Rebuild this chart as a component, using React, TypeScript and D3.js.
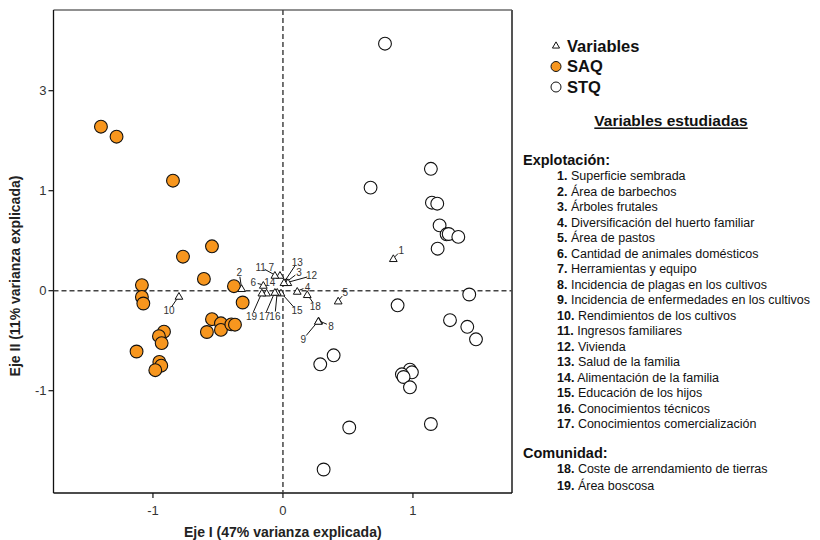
import React from "react";
import * as d3 from "d3";

// SAQ group scores (Eje I, Eje II)
const saqX = [-1.40, -1.28, -0.846, -0.546, -0.769, -0.608, -0.377, -0.310, -1.085, -1.085, -1.074, -0.546, -0.477, -0.477, -0.397, -0.369, -0.585, -0.915, -0.954, -0.933, -1.126, -0.951, -0.936, -0.982];
const saqY = [1.64, 1.54, 1.10, 0.444, 0.340, 0.118, 0.045, -0.118, 0.056, -0.062, -0.128, -0.285, -0.326, -0.392, -0.337, -0.340, -0.413, -0.410, -0.455, -0.524, -0.608, -0.712, -0.750, -0.795];

// STQ group scores
const stqX = [0.785, 1.138, 0.674, 1.146, 1.187, 1.205, 1.259, 1.275, 1.349, 1.190, 1.433, 0.882, 1.285, 1.418, 1.485, 0.390, 0.287, 0.977, 0.992, 0.915, 0.928, 0.977, 1.138, 0.510, 0.313];
const stqY = [2.47, 1.219, 1.031, 0.88, 0.87, 0.653, 0.564, 0.567, 0.538, 0.420, -0.038, -0.146, -0.295, -0.361, -0.486, -0.646, -0.736, -0.790, -0.816, -0.836, -0.863, -0.966, -1.333, -1.368, -1.788];

// variables (triangles)
const varIds = ["1", "2", "3", "4", "5", "6", "7", "8", "9", "10", "11", "12", "13", "14", "15", "16", "17", "18", "19"];
const varX = [0.849, -0.318, 0.023, 0.110, 0.425, -0.151, -0.023, 0.275, 0.272, -0.80, -0.062, 0.038, 0.008, -0.126, -0.015, -0.044, -0.062, 0.187, -0.162];
const varY = [0.324, 0.024, 0.084, -0.003, -0.10, 0.057, 0.157, -0.30, -0.303, -0.053, 0.157, 0.084, 0.084, -0.02, -0.02, -0.013, -0.013, -0.036, -0.02];

// label placement for variables (px offset from the triangle), [dx, dy, leader?]
const varLabelPos: [number, number, boolean][] = [
  [8, -8, true], [-2.4, -16, true], [13, -10, true], [10.4, -4, true], [7, -8, true],
  [-10, -2.7, true], [-8.7, -8, false], [12.3, 5.3, true], [-15, 18, true], [-10, 14.7, true],
  [-14.3, -8, true], [23.7, -6.5, true], [13.3, -20, true], [3.3, -10.4, false], [16, 18, true],
  [-2.3, 24, true], [-10.3, 24, true], [8, 11.7, true], [-10.3, 23.3, true],
];

const xTicks = [-1, 0, 1];
const xTickLabels = ["-1", "0", "1"];
const yTicks = [2, 1, 0, -1];
const yTickLabels = ["3", "1", "0", "-1"];

const legendItems = ["Variables", "SAQ", "STQ"];

const groupTitles = ["Explotación:", "Comunidad:"];
const groupA = [
  "Superficie sembrada", "Área de barbechos", "Árboles frutales", "Diversificación del huerto familiar",
  "Área de pastos", "Cantidad de animales domésticos", "Herramientas y equipo",
  "Incidencia de plagas en los  cultivos", "Incidencia de enfermedades en los cultivos",
  "Rendimientos de los cultivos", "Ingresos familiares", "Vivienda", "Salud de la familia",
  "Alimentación de la familia", "Educación de los hijos", "Conocimientos técnicos",
  "Conocimientos comercialización",
];
const groupB = ["Coste de arrendamiento de tierras", "Área boscosa"];

const ORANGE = "#F7961E";
const FONT = "'Liberation Sans', Arial, sans-serif";

const App = () => {
  const W = 820, H = 540;
  const left = 53.5, right = 512, top = 10, bottom = 493;

  const x = d3.scaleLinear().domain([-1.765, 1.762]).range([left, right]);
  const y = d3.scaleLinear().domain([2.807, -2.023]).range([top, bottom]);

  const tri = d3.symbol().type(d3.symbolTriangle).size(26)();
  const legendTri = d3.symbol().type(d3.symbolTriangle).size(22)();

  return (
    <svg width={W} height={H} style={{ position: "absolute", left: 0, top: 0, background: "#fff" }} fontFamily={FONT}>
      {/* frame */}
      <line x1={left} x2={right} y1={top} y2={top} stroke="#222" strokeWidth={1.2} />
      <line x1={right} x2={right} y1={top} y2={bottom} stroke="#555" strokeWidth={2} />
      <line x1={left} x2={left} y1={top} y2={bottom} stroke="#111" strokeWidth={1.3} />
      <line x1={left} x2={right} y1={bottom} y2={bottom} stroke="#111" strokeWidth={1.3} />

      {/* reference lines */}
      <line x1={x(0)} x2={x(0)} y1={top} y2={bottom} stroke="#444" strokeWidth={1.5} strokeDasharray="5,3" />
      <line x1={left} x2={right} y1={y(0)} y2={y(0)} stroke="#444" strokeWidth={1.5} strokeDasharray="5,3" />

      {/* y axis */}
      {yTicks.map((t, i) => (
        <g key={"yt" + i}>
          <line x1={left - 5} x2={left} y1={y(t)} y2={y(t)} stroke="#111" strokeWidth={1.2} />
          <text x={left - 7} y={y(t)} dy="0.35em" textAnchor="end" fontSize={13} fill="#333">{yTickLabels[i]}</text>
        </g>
      ))}
      {/* x axis */}
      {xTicks.map((t, i) => (
        <g key={"xt" + i}>
          <line x1={x(t)} x2={x(t)} y1={bottom} y2={bottom + 5} stroke="#111" strokeWidth={1.2} />
          <text x={x(t)} y={bottom + 12} dy="0.75em" textAnchor="middle" fontSize={13} fill="#333">{xTickLabels[i]}</text>
        </g>
      ))}

      <text x={(left + right) / 2} y={537} textAnchor="middle" fontSize={14} fontWeight="bold" fill="#222">
        Eje I (47% varianza explicada)
      </text>
      <text transform={`translate(20,276) rotate(-90)`} textAnchor="middle" fontSize={14} fontWeight="bold" fill="#222">
        Eje II (11% varianza explicada)
      </text>

      {/* STQ */}
      {stqX.map((v, i) => (
        <circle key={"s" + i} cx={x(v)} cy={y(stqY[i])} r={6.4} fill="#fff" stroke="#111" strokeWidth={1.1} />
      ))}
      {/* SAQ */}
      {saqX.map((v, i) => (
        <circle key={"a" + i} cx={x(v)} cy={y(saqY[i])} r={6.4} fill={ORANGE} stroke="#111" strokeWidth={1.1} />
      ))}

      {/* variables */}
      {varIds.map((id, i) => {
        const tx = x(varX[i]), ty = y(varY[i]);
        const [dx, dy, lead] = varLabelPos[i];
        const d = Math.hypot(dx, dy);
        const ux = dx / d, uy = dy / d;
        return (
          <g key={"v" + i}>
            {lead && (
              <line x1={tx + ux * 2} y1={ty + uy * 2} x2={tx + dx - ux * 4.5} y2={ty + dy - uy * 4.5} stroke="#111" strokeWidth={1} />
            )}
            <path d={tri} transform={`translate(${tx},${ty + 1})`} fill="#fff" stroke="#111" strokeWidth={1} />
            <text x={tx + dx} y={ty + dy} dy="0.35em" textAnchor="middle" fontSize={10} fill="#333">{id}</text>
          </g>
        );
      })}

      {/* legend */}
      {legendItems.map((name, i) => {
        const ly = 46 + i * 20.5;
        return (
          <g key={"l" + i}>
            {i === 0 && <path d={legendTri} transform={`translate(556,${ly})`} fill="#fff" stroke="#111" strokeWidth={1} />}
            {i > 0 && <circle cx={556} cy={ly} r={5} fill={i === 1 ? ORANGE : "#fff"} stroke="#111" strokeWidth={1} />}
            <text x={567} y={ly} dy="0.36em" fontSize={16.5} fontWeight="bold" fill="#111">{name}</text>
          </g>
        );
      })}

      <text x={671} y={121} dy="0.35em" textAnchor="middle" fontSize={15.5} fontWeight="bold" fill="#111" textDecoration="underline">
        Variables estudiadas
      </text>

      <text x={523} y={160} dy="0.35em" fontSize={14.5} fontWeight="bold" fill="#111">{groupTitles[0]}</text>
      {groupA.map((t, i) => (
        <text key={"ga" + i} x={557} y={176 + i * 15.5} dy="0.35em" fontSize={12.5} fill="#111">
          <tspan fontWeight="bold">{i + 1}.</tspan> {t}
        </text>
      ))}
      <text x={523} y={453} dy="0.35em" fontSize={14.5} fontWeight="bold" fill="#111">{groupTitles[1]}</text>
      {groupB.map((t, i) => (
        <text key={"gb" + i} x={557} y={469 + i * 17} dy="0.35em" fontSize={12.5} fill="#111">
          <tspan fontWeight="bold">{groupA.length + i + 1}.</tspan> {t}
        </text>
      ))}
    </svg>
  );
};

export default App;
